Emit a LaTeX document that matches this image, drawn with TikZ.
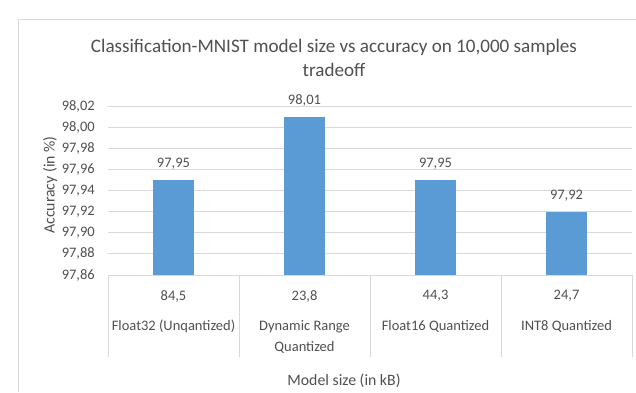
\documentclass[tikz,border=0pt]{standalone}
\usepackage{fontspec}
\setmainfont{Carlito}
\definecolor{barblue}{HTML}{5B9BD5}
\definecolor{txtgray}{HTML}{505050}
\definecolor{linegray}{HTML}{D9D9D9}
\tikzset{
  ticklabel/.style={text=txtgray, font=\fontsize{14.5}{16}\selectfont, anchor=east, inner sep=0pt},
  vallabel/.style={text=txtgray, font=\fontsize{14.5}{16}\selectfont, inner sep=0pt},
  catlabel/.style={text=txtgray, font=\fontsize{14.5}{21}\selectfont, align=center, inner sep=0pt, anchor=north},
  axistitle/.style={text=txtgray, font=\fontsize{15.8}{18}\selectfont, inner sep=0pt},
  charttitle/.style={text=txtgray, font=\fontsize{19.1}{24}\selectfont, align=center, inner sep=0pt},
  gridline/.style={draw=linegray, line width=1pt},
  bar/.style={fill=barblue},
}
\begin{document}
\begin{tikzpicture}[x=1pt,y=-1pt]
\useasboundingbox (0,0) rectangle (636,392);
\fill[white] (0,0) rectangle (636,392);
% chart area border (continues past the right and bottom edges)
\draw[linegray, line width=1pt] (18,392) |- (636,19);

% title
\node[charttitle] (title) at (334,58) {Classification-MNIST model size vs accuracy on 10,000 samples\\tradeoff};

% horizontal gridlines
\foreach \i in {1,...,8}{
  \draw[gridline] (108,{275-\i*21.125}) -- (632,{275-\i*21.125});
}
% value axis labels
\foreach \i/\lab in {0/{97,86},1/{97,88},2/{97,90},3/{97,92},4/{97,94},5/{97,96},6/{97,98},7/{98,00},8/{98,02}}{
  \node[ticklabel] (tick\i) at (95,{275-\i*21.125}) {\lab};
}

% axis title (value axis)
\node[axistitle, rotate=90] (ytitle) at (50,185) {Accuracy (in \%)};

% bars
\fill[bar] (153,275) rectangle (194,179.94);
\fill[bar] (284,275) rectangle (325,116.56);
\fill[bar] (415,275) rectangle (456,179.94);
\fill[bar] (546,275) rectangle (587,211.63);

% data labels
\node[vallabel] (v1) at (173.5,164) {97,95};
\node[vallabel] (v2) at (304.5,100.5) {98,01};
\node[vallabel] (v3) at (435.5,164) {97,95};
\node[vallabel] (v4) at (566.5,195.6) {97,92};

% category axis: baseline and table-style separators
\draw[gridline] (108,275) -- (632,275);
\foreach \x in {108,239,370,501,632}{
  \draw[gridline] (\x,275) -- (\x,357);
}

% category labels (size row and name row)
\node[vallabel] (s1) at (173.5,296) {84,5};
\node[vallabel] (s2) at (304.5,296) {23,8};
\node[vallabel] (s3) at (435.5,296) {44,3};
\node[vallabel] (s4) at (566.5,296) {24,7};
\node[catlabel] (c1) at (173.5,320) {Float32 (Unqantized)};
\node[catlabel] (c2) at (304.5,320) {Dynamic Range\\Quantized};
\node[catlabel] (c3) at (435.5,320) {Float16 Quantized};
\node[catlabel] (c4) at (566.5,320) {INT8 Quantized};

% axis title (category axis)
\node[axistitle] (xtitle) at (344,381) {Model size (in kB)};
\end{tikzpicture}
\end{document}
